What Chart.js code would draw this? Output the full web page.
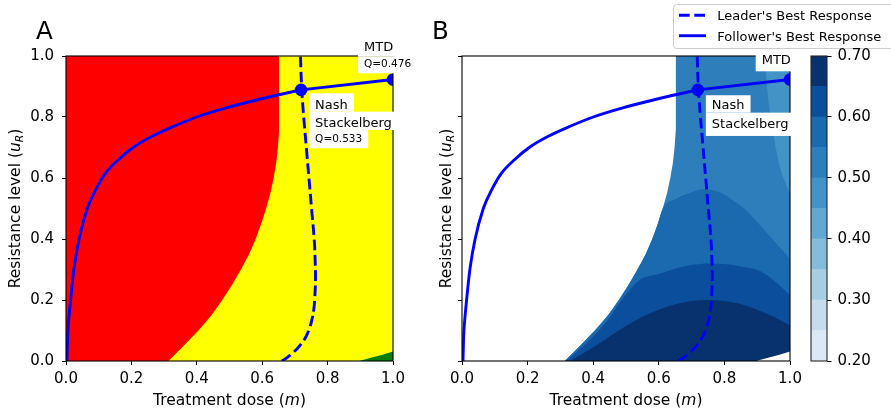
<!DOCTYPE html>
<html>
<head>
<meta charset="utf-8">
<title>Stackelberg best responses</title>
<script src="https://cdn.jsdelivr.net/npm/chart.js@4.4.1/dist/chart.umd.min.js"></script>
<style>
body { margin: 0; background: #fff; }
#wrap { position: relative; width: 891px; height: 412px; overflow: hidden; }
#wrap canvas { position: absolute; top: 0; }
</style>
</head>
<body>
<div id="wrap">
<canvas id="chartA" width="430" height="412" style="left:0px"></canvas>
<canvas id="chartB" width="461" height="412" style="left:430px"></canvas>
<canvas id="colorbar" width="111" height="412" style="left:780px"></canvas>
</div>
<script>
// m = treatment dose (x), u = resistance level (y)
const xTicks = [0, 0.2, 0.4, 0.6, 0.8, 1.0];
const yTicks = [0, 0.2, 0.4, 0.6, 0.8, 1.0];

// edge of the red region (A) / white region (B)
const boundaryM = [0, 0.313, 0.36, 0.405, 0.445, 0.478, 0.508, 0.535, 0.56, 0.58, 0.597, 0.612, 0.625, 0.635, 0.643, 0.648, 0.652, 0.652];
const boundaryU = [0, 0, 0.05, 0.1, 0.15, 0.2, 0.25, 0.3, 0.35, 0.4, 0.45, 0.5, 0.55, 0.6, 0.65, 0.7, 0.76, 1.0];

// small corner bottom right (green in A, blank in B)
const cornerM = [0.897, 0.93, 0.965, 1.0];
const cornerU = [0, 0.01, 0.02, 0.031];

// follower's best response
const followerM = [0.003, 0.005, 0.008, 0.014, 0.024, 0.04, 0.065, 0.09, 0.12, 0.16, 0.205, 0.26, 0.32, 0.4, 0.49, 0.58, 0.65, 0.719];
const followerU = [0, 0.08, 0.13, 0.2, 0.3, 0.4, 0.5, 0.56, 0.615, 0.66, 0.7, 0.735, 0.765, 0.8, 0.83, 0.855, 0.873, 0.889];

// leader's best response
const leaderM = [0.66, 0.675, 0.692, 0.707, 0.72, 0.733, 0.744, 0.752, 0.758, 0.761, 0.763, 0.762, 0.759, 0.751, 0.743, 0.735, 0.727, 0.721, 0.717];
const leaderU = [0, 0.01, 0.025, 0.04, 0.057, 0.078, 0.105, 0.135, 0.17, 0.21, 0.27, 0.33, 0.4, 0.5, 0.6, 0.7, 0.8, 0.889, 1.0];

// equilibria
const nashM = 0.719, nashU = 0.889, nashQ = 'Q=0.533';
const mtdM = 1.0, mtdU = 0.923, mtdQ = 'Q=0.476';

// panel B contour levels and colours
const levels = [0.2, 0.25, 0.3, 0.35, 0.4, 0.45, 0.5, 0.55, 0.6, 0.65, 0.7];
const cbTicks = [0.2, 0.3, 0.4, 0.5, 0.6, 0.7];
const bandColors = ['#dbe9f6', '#c7dbef', '#a7cde3', '#85bcdc', '#63a8d3', '#4493c7', '#2e7ebc', '#1b69af', '#0b4f9c', '#08326e'];

// Q < 0.50 patch top right
const patchM = [0.923, 0.934, 0.949, 0.969, 0.99, 1.0];
const patchU = [1.0, 0.856, 0.746, 0.637, 0.575, 0.55];
// Q = 0.55 contour (right of where it meets the boundary)
const c55M = [0.65, 0.70, 0.735, 0.78, 0.837, 0.87, 0.908, 0.95, 1.0];
const c55U = [0.53, 0.553, 0.563, 0.556, 0.519, 0.49, 0.446, 0.395, 0.335];
// Q = 0.60 contour
const c60M = [0.318, 0.365, 0.41, 0.45, 0.48, 0.541, 0.6, 0.65, 0.70, 0.755, 0.80, 0.85, 0.908, 0.95, 1.0];
const c60U = [0, 0.045, 0.092, 0.142, 0.19, 0.265, 0.285, 0.303, 0.315, 0.32, 0.318, 0.31, 0.295, 0.265, 0.216];
// Q = 0.65 contour
const c65M = [0.33, 0.40, 0.45, 0.48, 0.541, 0.6, 0.65, 0.70, 0.755, 0.80, 0.85, 0.888, 0.95, 1.0];
const c65U = [0, 0.045, 0.08, 0.102, 0.14, 0.168, 0.186, 0.197, 0.2, 0.197, 0.187, 0.173, 0.145, 0.116];

const blue = '#0000ff';
const FONT = '"DejaVu Sans", sans-serif';
const TICK_SIZE = 15;
Chart.defaults.font.family = FONT;
Chart.defaults.color = '#000';

function pts(ms, us) {
    return ms.map((m, i) => ({ x: m, y: us[i] }));
}

function fillSet(data, color, fill, order, smooth) {
    const set = { data: data, backgroundColor: color, borderColor: 'rgba(0,0,0,0)', borderWidth: 0,
        pointRadius: 0, fill: fill, tension: 0, order: order };
    if (smooth) set.cubicInterpolationMode = 'monotone';
    return set;
}

function curveSets() {
    return [
        { label: "Leader's Best Response", data: pts(leaderM, leaderU), borderColor: blue, borderWidth: 2.9,
          borderDash: [10.7, 4.6], pointRadius: 0, tension: 0.4, fill: false, order: 2 },
        { label: "Follower's Best Response", data: pts(followerM, followerU), borderColor: blue, borderWidth: 2.9,
          pointRadius: 0, cubicInterpolationMode: 'monotone', fill: false, order: 1 },
        { label: 'Equilibria', data: pts([nashM, mtdM], [nashU, mtdU]), borderColor: blue, borderWidth: 2.9,
          pointRadius: 6.3, pointBackgroundColor: blue, pointBorderWidth: 0, fill: false, order: 0 }
    ];
}

function tickGrid() {
    return { drawOnChartArea: false, tickLength: 4, tickColor: '#000', tickWidth: 1 };
}

function scalesFor(yLabels, yWidth) {
    return {
        x: {
            type: 'linear', min: 0, max: 1,
            afterFit: s => { s.height = 51; },
            afterBuildTicks: s => { s.ticks = xTicks.map(v => ({ value: v })); },
            ticks: { font: { size: TICK_SIZE }, padding: 5, maxRotation: 0, autoSkip: false, callback: v => v.toFixed(1) },
            grid: tickGrid(),
            border: { display: false }
        },
        y: {
            type: 'linear', min: 0, max: 1,
            afterFit: s => { s.width = yWidth; },
            afterBuildTicks: s => { s.ticks = yTicks.map(v => ({ value: v })); },
            ticks: { font: { size: TICK_SIZE }, padding: 8, autoSkip: false, callback: v => yLabels ? v.toFixed(1) : '' },
            grid: tickGrid(),
            border: { display: false }
        }
    };
}

// text helpers
function fontOf(p, size) {
    return (p[1] ? 'italic ' : '') + (p[2] ? size * 0.7 : size) + 'px ' + FONT;
}

function richText(ctx, parts, x, y, size) {
    let w = 0;
    parts.forEach(p => { ctx.font = fontOf(p, size); w += ctx.measureText(p[0]).width; });
    let cx = x - w / 2;
    parts.forEach(p => {
        ctx.font = fontOf(p, size);
        ctx.fillText(p[0], cx, y + (p[2] ? size * 0.2 : 0));
        cx += ctx.measureText(p[0]).width;
    });
}

const xTitle = [['Treatment dose (', false, false], ['m', true, false], [')', false, false]];
const yTitle = [['Resistance level (', false, false], ['u', true, false], ['R', true, true], [')', false, false]];

function boxedLines(ctx, x, lines) {
    lines.forEach(l => {
        ctx.font = l.s + 'px ' + FONT;
        const w = ctx.measureText(l.t).width;
        ctx.fillStyle = '#fff';
        ctx.fillRect(x - 6, l.top, w + 12, l.bot - l.top);
    });
    lines.forEach(l => {
        ctx.font = l.s + 'px ' + FONT;
        ctx.fillStyle = '#000';
        ctx.fillText(l.t, x, l.base);
    });
}

const frame = {
    id: 'frame',
    afterDatasetsDraw(chart, args, opts) {
        const a = chart.chartArea, ctx = chart.ctx;
        ctx.save();
        ctx.strokeStyle = opts.color || '#000';
        ctx.lineWidth = 1.1;
        ctx.strokeRect(a.left, a.top, a.right - a.left, a.bottom - a.top);
        ctx.restore();
    }
};

function decorations(letter, yTitleX, withQ) {
    return {
        id: 'decor',
        afterDraw(chart) {
            const ctx = chart.ctx, a = chart.chartArea;
            const xs = chart.scales.x, ys = chart.scales.y;
            ctx.save();
            ctx.textAlign = 'left';
            ctx.textBaseline = 'alphabetic';
            ctx.fillStyle = '#000';

            ctx.font = '24.5px ' + FONT;
            ctx.fillText(letter, a.left - 30, 39);

            richText(ctx, xTitle, (a.left + a.right) / 2, 405, 15.5);
            ctx.save();
            ctx.translate(yTitleX, (a.top + a.bottom) / 2);
            ctx.rotate(-Math.PI / 2);
            richText(ctx, yTitle, 0, 0, 15.5);
            ctx.restore();

            // labels next to the equilibria
            const px = xs.getPixelForValue(nashM), py = ys.getPixelForValue(nashU);
            const qx = xs.getPixelForValue(mtdM), qy = ys.getPixelForValue(mtdU);
            if (withQ) {
                boxedLines(ctx, px + 14, [
                    { t: 'Nash', s: 13, base: py + 19.1, top: py + 3.4, bot: py + 21.8 },
                    { t: 'Stackelberg', s: 13, base: py + 36.8, top: py + 21.8, bot: py + 40.1 },
                    { t: nashQ, s: 10.5, base: py + 52.4, top: py + 40.1, bot: py + 58.4 }
                ]);
                boxedLines(ctx, qx - 29, [
                    { t: 'MTD', s: 13, base: qy - 28.8, top: qy - 37.8, bot: qy - 22.8 },
                    { t: mtdQ, s: 10.5, base: qy - 12.8, top: qy - 22.8, bot: qy - 6.2 }
                ]);
            } else {
                boxedLines(ctx, px + 14, [
                    { t: 'Nash', s: 13, base: py + 18.8, top: py + 5.4, bot: py + 22.8 },
                    { t: 'Stackelberg', s: 13, base: py + 37.8, top: py + 22.8, bot: py + 46.1 }
                ]);
                boxedLines(ctx, qx - 28.3, [
                    { t: 'MTD', s: 13, base: qy - 15.5, top: qy - 32, bot: qy - 8.2 }
                ]);
            }
            ctx.restore();
        }
    };
}

const legendBox = {
    id: 'legendBox',
    afterDraw(chart) {
        const ctx = chart.ctx;
        ctx.save();
        ctx.beginPath();
        ctx.roundRect(243.5, 4.5, 222, 44, 3);
        ctx.fillStyle = 'rgba(255,255,255,0.8)';
        ctx.fill();
        ctx.strokeStyle = '#cccccc';
        ctx.lineWidth = 1;
        ctx.stroke();
        const items = chart.data.datasets.filter(d => d.label && d.label.indexOf('Best') >= 0);
        items.forEach((d, i) => {
            const y = 15.3 + i * 20.4;
            ctx.strokeStyle = d.borderColor;
            ctx.lineWidth = d.borderWidth;
            ctx.setLineDash(d.borderDash || []);
            ctx.beginPath();
            ctx.moveTo(249, y);
            ctx.lineTo(276, y);
            ctx.stroke();
            ctx.setLineDash([]);
            ctx.fillStyle = '#000';
            ctx.font = '13px ' + FONT;
            ctx.textAlign = 'left';
            ctx.textBaseline = 'alphabetic';
            ctx.fillText(d.label, 287.3, y + 4.8);
        });
        ctx.restore();
    }
};

function baseOptions(padRight, yLabels, yWidth) {
    return {
        responsive: false,
        animation: false,
        devicePixelRatio: 1,
        events: [],
        layout: { padding: { left: 0, right: padRight, top: 56, bottom: 0 } },
        scales: scalesFor(yLabels, yWidth),
        plugins: { legend: { display: false }, tooltip: { enabled: false }, frame: { color: '#000' } }
    };
}

// panel A
const setsA = curveSets().concat([
    fillSet(pts(cornerM, cornerU), '#007f00', 'start', 8),
    fillSet(pts(boundaryM, boundaryU), '#ff0000', 'end', 9),
    fillSet(pts([0, 1], [1, 1]), '#ffff00', 'start', 10)
]);
new Chart(document.getElementById('chartA'), {
    type: 'line',
    data: { datasets: setsA },
    options: baseOptions(37, true, 66),
    plugins: [frame, decorations('A', 19.5, true)]
});

// panel B
const validM = boundaryM.slice(1).concat([1]);
const validU = boundaryU.slice(1).concat([1]);
const edgeM = boundaryM.filter((m, i) => i > 0 && boundaryU[i] <= 0.5);
const edgeU = boundaryU.filter((u, i) => i > 0 && u <= 0.5);
const setsB = curveSets().concat([
    fillSet(pts(cornerM, cornerU), '#ffffff', 'start', 5),
    fillSet(pts(c65M, c65U), bandColors[9], 'start', 6, true),
    fillSet(pts(c60M, c60U), bandColors[8], 'start', 7, true),
    fillSet(pts(edgeM.concat(c55M), edgeU.concat(c55U)), bandColors[7], 'start', 8, true),
    fillSet(pts(patchM, patchU), bandColors[5], 'end', 9, true),
    fillSet(pts(validM, validU), bandColors[6], 'start', 10)
]);
new Chart(document.getElementById('chartB'), {
    type: 'line',
    data: { datasets: setsB },
    options: baseOptions(101, false, 32),
    plugins: [frame, decorations('B', 21, false), legendBox]
});

// colour bar
new Chart(document.getElementById('colorbar'), {
    type: 'bar',
    data: {
        labels: [''],
        datasets: bandColors.map((c, i) => ({
            data: [[levels[i], levels[i + 1]]], backgroundColor: c, borderWidth: 0,
            barPercentage: 1, categoryPercentage: 1, grouped: false
        }))
    },
    options: {
        responsive: false,
        animation: false,
        devicePixelRatio: 1,
        events: [],
        layout: { padding: { left: 31, right: 0, top: 56, bottom: 51 } },
        scales: {
            x: { display: false },
            y: {
                position: 'right', min: 0.2, max: 0.7,
                afterFit: s => { s.width = 64; },
                afterBuildTicks: s => { s.ticks = cbTicks.map(v => ({ value: v })); },
                ticks: { font: { size: TICK_SIZE }, padding: 6, autoSkip: false, callback: v => v.toFixed(2) },
                grid: { drawOnChartArea: false, tickLength: 4.5, tickColor: '#000', tickWidth: 1 },
                border: { display: false }
            }
        },
        plugins: { legend: { display: false }, tooltip: { enabled: false }, frame: { color: '#262626' } }
    },
    plugins: [frame]
});
</script>
</body>
</html>
